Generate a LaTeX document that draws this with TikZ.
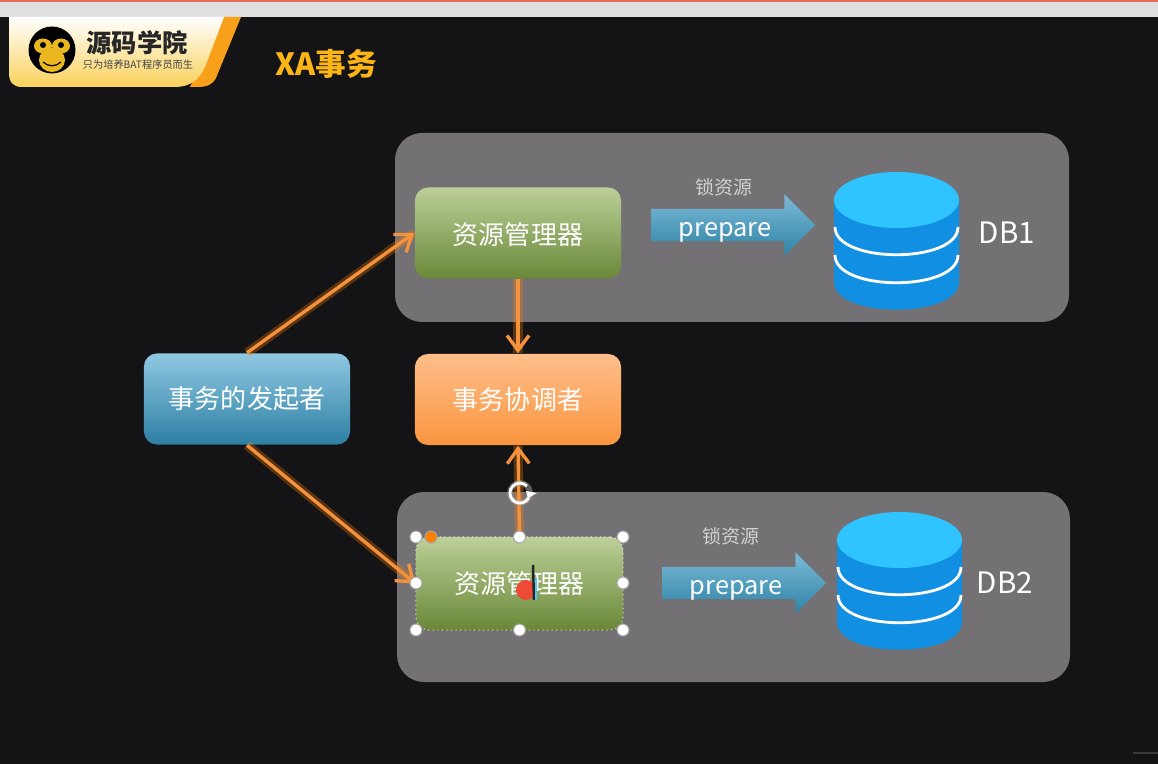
\documentclass[tikz,border=0pt]{standalone}
\usepackage{fontspec}
\setmainfont{Noto Sans CJK SC}
\usetikzlibrary{arrows.meta,shapes.arrows}
\definecolor{bgdark}{HTML}{141416}
\definecolor{panelgrey}{HTML}{737173}
\definecolor{linkorange}{HTML}{F5923E}
\definecolor{dbside}{HTML}{118FE3}
\definecolor{dbtop}{HTML}{2FC4FF}
\definecolor{logoyellow}{HTML}{E9B820}
\definecolor{logoorange}{HTML}{F9A01B}
\definecolor{titleorange}{HTML}{FDB515}
\definecolor{pointerred}{HTML}{EE4B36}
\tikzset{
  panelbox/.style={fill=panelgrey,rounded corners=0.27cm},
  stepbox/.style={rounded corners=0.13cm,minimum width=2.06cm,minimum height=0.91cm,text=white,font=\fontsize{7.4}{9}\selectfont,inner sep=0pt},
  bluebox/.style={stepbox,top color={rgb,255:red,143;green,200;blue,226},middle color={rgb,255:red,63;green,163;blue,204},bottom color={rgb,255:red,45;green,127;blue,163}},
  orangebox/.style={stepbox,top color={rgb,255:red,255;green,190;blue,138},middle color={rgb,255:red,255;green,158;blue,77},bottom color={rgb,255:red,249;green,149;blue,63}},
  greenbox/.style={stepbox,top color={rgb,255:red,188;green,207;blue,152},middle color={rgb,255:red,143;green,171;blue,90},bottom color={rgb,255:red,106;green,136;blue,56}},
  link/.style={draw=linkorange,line width=0.95pt,-{Straight Barb[length=1.5mm,width=2.2mm]},preaction={draw=orange,opacity=0.3,line width=2.6pt,-}},
  preparearrow/.style={single arrow,single arrow head extend=0.145cm,single arrow head indent=0pt,minimum height=1.64cm,minimum width=0.6cm,inner xsep=0pt,inner ysep=0pt,text height=0.265cm,text depth=0.045cm,top color={rgb,255:red,124;green,186;blue,216},middle color={rgb,255:red,75;green,163;blue,204},bottom color={rgb,255:red,47;green,131;blue,165},text=white,font=\fontsize{7.2}{8}\selectfont},
  handle/.style={circle,fill=white,draw=gray!70,line width=0.3pt,inner sep=0pt,minimum size=0.12cm},
  smalltext/.style={text=white!82!black,font=\fontsize{5.4}{6}\selectfont},
  dbtext/.style={text=white,font=\fontsize{8.4}{10}\selectfont}
}
\newcommand{\dbstack}[2]{
  \fill[dbside] (#1-62.5,#2) -- (#1-62.5,#2+82) .. controls (#1-62.5,#2+119) and (#1+62.5,#2+119) .. (#1+62.5,#2+82) -- (#1+62.5,#2) -- cycle;
  \fill[dbtop] (#1,#2) ellipse (62.5 and 28);
  \draw[white,line width=0.8pt] (#1-61.5,#2+27) .. controls (#1-61.5,#2+64) and (#1+61.5,#2+64) .. (#1+61.5,#2+27);
  \draw[white,line width=0.8pt] (#1-61.5,#2+55) .. controls (#1-61.5,#2+92) and (#1+61.5,#2+92) .. (#1+61.5,#2+55);
}
\begin{document}
\begin{tikzpicture}[x=0.01cm,y=-0.01cm]
  \useasboundingbox (0,0) rectangle (1158,764);
  \fill[bgdark] (0,0) rectangle (1158,764);
  % window strip on top
  \fill[gray!25] (0,0) rectangle (1158,17);
  \fill[red!55!brown!75!white] (0,0) rectangle (1158,2);

  % logo
  \fill[logoorange] (224,17) -- (241,17) -- (216,78) .. controls (212,85) and (207,87) .. (197,87) -- (190,87) -- cycle;
  \shade[top color=white,middle color={rgb,255:red,253;green,240;blue,195},bottom color={rgb,255:red,250;green,209;blue,90}] (9,17) -- (224,17) -- (205,67) .. controls (199,80) and (190,87) .. (175,87) -- (22,87) .. controls (13,87) and (9,82) .. (9,73) -- cycle;
  \fill[black] (52,50) circle (23.5);
  \fill[logoyellow] (52,60) ellipse (13 and 12);
  \fill[logoyellow] (43,46) ellipse (9 and 7.5);
  \fill[logoyellow] (61,46) ellipse (9 and 7.5);
  \fill[black] (43,45) circle (3);
  \fill[black] (61,45) circle (3);
  \draw[black,line width=0.35pt] (43,62) .. controls (48,67) and (56,67) .. (61,62);
  \node[text=black!85,font=\fontsize{7.2}{10}\selectfont\bfseries] (logoname) at (137,43) {源码学院};
  \node[text=black!75,font=\fontsize{2.9}{4}\selectfont] (logoline) at (138,65) {只为培养BAT程序员而生};
  \node[text=titleorange,font=\fontsize{8.7}{10}\selectfont\bfseries] (title) at (326,64) {XA事务};

  % the two grey panels
  \fill[panelbox] (395,133) rectangle (1069,322);
  \fill[panelbox] (397,492) rectangle (1070,682);

  \node[bluebox] (starter) at (247,399) {事务的发起者};
  \node[orangebox] (coord) at (518,399.5) {事务协调者};
  \node[greenbox,text height=0.22cm,text depth=0cm] (rma) at (518,233) {资源管理器};
  \node[greenbox,minimum width=2.07cm,minimum height=0.93cm,draw=white!75!gray,densely dotted,line width=0.3pt] (rmb) at (519.5,583.5) {资源管理器};

  \draw[link] (starter.north) -- (rma.west);
  \draw[link] (starter.south) -- (rmb.west);
  \draw[link] (rma.south) -- (coord.north);
  \draw[link] (rmb.north) -- (coord.south);

  \node[preparearrow] (prepa) at (725,225) {prepare};
  \node[preparearrow] (prepb) at (736,583) {prepare};
  \node[smalltext] (locka) at (724,187) {锁资源};
  \node[smalltext] (lockb) at (731,536) {锁资源};

  \dbstack{896.5}{200}
  \dbstack{899.5}{540}
  \node[dbtext] (dba) at (1007,233) {DB1};
  \node[dbtext] (dbb) at (1005,582.5) {DB2};

  % selection handles round the second box
  \node[handle] (hnw) at (416,537) {};
  \node[handle] (hn) at (519.5,537) {};
  \node[handle] (hne) at (623,537) {};
  \node[handle] (hw) at (416,583) {};
  \node[handle] (he) at (623,583) {};
  \node[handle] (hsw) at (416,630) {};
  \node[handle] (hs) at (519.5,630) {};
  \node[handle] (hse) at (623,630) {};
  \node[handle,fill=orange] (hadj) at (431,537) {};
  \draw[gray!70,line width=1.6pt,opacity=0.5] (520,493) circle (10);
  \draw[white,line width=0.8pt] (527,486) arc[start angle=-45,end angle=-335,radius=10];
  \fill[white] (526,491) -- (537,493) -- (528,498) -- cycle;
  % pointer
  \fill[pointerred] (526,590) circle (10);
  \draw[gray!30!black,line width=0.7pt] (533,565) -- (534,600);
  \draw[cyan!70,line width=0.5pt] (536,578) -- (536,600);
  % corner bit
  \draw[gray!45!black,line width=0.5pt] (1133,753) -- (1158,753);
\end{tikzpicture}
\end{document}
